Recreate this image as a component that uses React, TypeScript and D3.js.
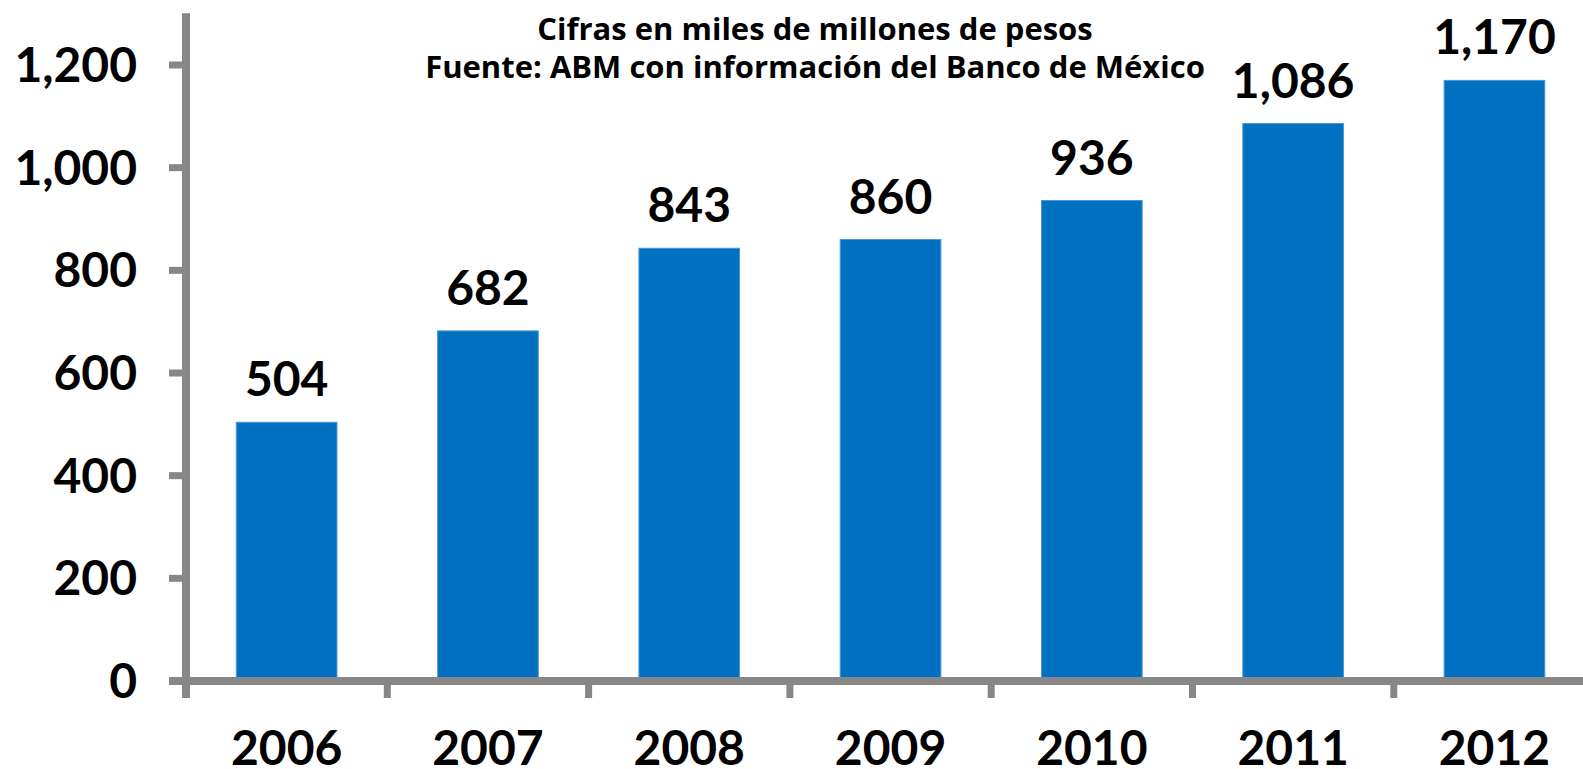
import React from "react";
import * as d3 from "d3";

const years = ["2006", "2007", "2008", "2009", "2010", "2011", "2012"];
const values = [504, 682, 843, 860, 936, 1086, 1170];
const yTicks = [0, 200, 400, 600, 800, 1000, 1200];
const titleLines = [
  "Cifras en miles de millones de pesos",
  "Fuente: ABM con información del Banco de México",
];

const W = 1583;
const H = 769;
const axisX = 186;
const step = 201.3;
const FONT = "Lato, 'Open Sans', sans-serif";
const TITLE_FONT = "'Open Sans', Lato, sans-serif";
const AXIS = "#878787";

export default function App() {
  const x = d3
    .scaleBand<string>()
    .domain(years)
    .range([axisX, axisX + step * years.length])
    .paddingInner(0.5)
    .paddingOuter(0.25);
  const y = d3.scaleLinear().domain([0, 1200]).range([681, 65]);
  const fmt = d3.format(",");
  const yTop = y(1301);
  const bounds = years.map((_, i) => axisX + step * (i + 1));

  return (
    <svg
      width={W}
      height={H}
      style={{ position: "absolute", left: 0, top: 0, background: "#fff" }}
    >
      {/* bars */}
      {years.map((yr, i) => (
        <rect
          key={yr}
          x={x(yr)}
          y={y(values[i])}
          width={x.bandwidth()}
          height={y(0) - y(values[i])}
          fill="#0070C0"
          stroke="#4a97d6"
          strokeWidth={1}
        />
      ))}
      {/* value labels */}
      {years.map((yr, i) => (
        <text
          key={yr}
          x={(x(yr) as number) + x.bandwidth() / 2}
          y={y(values[i]) - 26}
          textAnchor="middle"
          fontFamily={FONT}
          fontWeight="bold"
          fontSize={48}
          fill="#000"
        >
          {fmt(values[i])}
        </text>
      ))}
      {/* y axis */}
      <line x1={axisX} x2={axisX} y1={yTop} y2={698} stroke={AXIS} strokeWidth={8} />
      {yTicks.map((t) => (
        <g key={t}>
          <line x1={169} x2={axisX} y1={y(t)} y2={y(t)} stroke={AXIS} strokeWidth={7} />
          <text
            x={137}
            y={y(t) + 17}
            textAnchor="end"
            fontFamily={FONT}
            fontWeight="bold"
            fontSize={48}
            fill="#000"
          >
            {fmt(t)}
          </text>
        </g>
      ))}
      {/* x axis */}
      <line x1={169} x2={W} y1={y(0)} y2={y(0)} stroke={AXIS} strokeWidth={8} />
      {bounds.map((b, i) => (
        <line key={i} x1={b} x2={b} y1={y(0)} y2={698} stroke={AXIS} strokeWidth={7} />
      ))}
      {years.map((yr) => (
        <text
          key={yr}
          x={(x(yr) as number) + x.bandwidth() / 2}
          y={765}
          textAnchor="middle"
          fontFamily={FONT}
          fontWeight="bold"
          fontSize={48}
          fill="#000"
        >
          {yr}
        </text>
      ))}
      {/* title */}
      {titleLines.map((t, i) => (
        <text
          key={i}
          x={815}
          y={40 + i * 38}
          textAnchor="middle"
          fontFamily={TITLE_FONT}
          fontWeight="bold"
          fontSize={31}
          fill="#000"
        >
          {t}
        </text>
      ))}
    </svg>
  );
}
